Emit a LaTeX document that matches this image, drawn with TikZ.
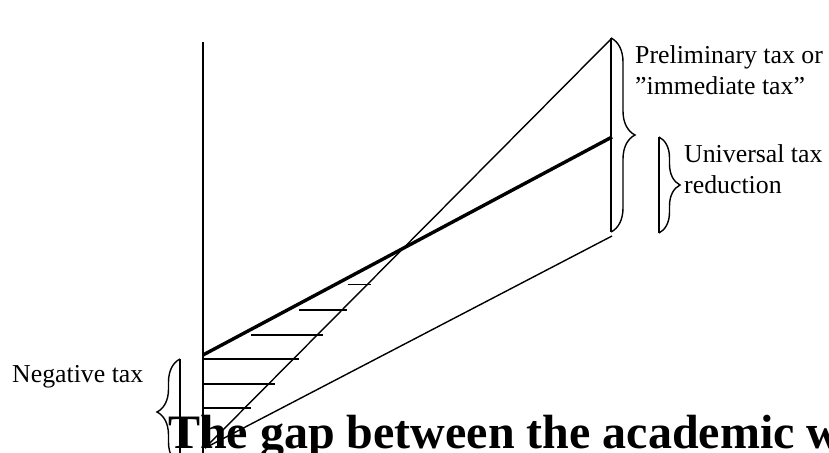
\documentclass[tikz,border=0pt]{standalone}
\usepackage{fontspec}
\setmainfont{Liberation Serif}
\usetikzlibrary{decorations.pathreplacing}

\begin{document}
\begin{tikzpicture}[
    % one unit = one pixel of the original, y running downwards
    x=1pt, y=-1pt,
    label/.style={anchor=base west, inner sep=0pt, align=left, font=\fontsize{25.8}{31}\selectfont},
    axis line/.style={line width=2pt},
    thin line/.style={line width=1.4pt},
    thick line/.style={line width=3.4pt},
    hatch/.style={line width=1.6pt},
    wordbrace/.style={decorate, decoration={brace, amplitude=#1}, line width=1.4pt}
]
    \useasboundingbox (0,0) rectangle (829,452);
    \clip (0,0) rectangle (829,452);

    % 1. Axis and the end points of the lines
    \coordinate (top) at (203,42);
    \coordinate (axisend) at (203,470);
    \coordinate (origin) at (205,448);
    \coordinate (negtop) at (203,355);
    \coordinate (steepend) at (612,38);
    \coordinate (univend) at (612,137);
    \coordinate (lowend) at (612,236);

    \draw[axis line] (top) -- (axisend);
    \draw[thin line] (origin) -- (steepend);
    \draw[thin line] (origin) -- (lowend);
    \draw[thick line] (negtop) -- (univend);

    % 2. Hatching between the two tax lines
    \foreach \y/\xa/\xb in {284.3/347.7/370.7, 310/299/346.7, 335/251/322.7,
                            359/203/299, 384/203/275, 407.7/203/250.7}
        \draw[hatch] (\xa,\y) -- (\xb,\y);

    % 3. Braces with their closing lines
    \coordinate (ptop) at (611,38);
    \coordinate (pbot) at (611,232);
    \draw[thin line] (ptop) -- (pbot);
    \draw[wordbrace=24pt] (ptop) -- (pbot);

    \coordinate (utop) at (659,137);
    \coordinate (ubot) at (659,233);
    \draw[thin line] (utop) -- (ubot);
    \draw[wordbrace=21pt] (utop) -- (ubot);

    \coordinate (ntop) at (180,359);
    \coordinate (nbot) at (180,465);
    \draw[thin line] (ntop) -- (nbot);
    \draw[wordbrace=23pt] (nbot) -- (ntop);

    % 4. Labels (base = baseline of the last line)
    \node[label] (prelim) at (635,94) {Preliminary tax or\\”immediate tax”};
    \node[label] (univ) at (684,193) {Universal tax\\reduction};
    \node[label] (negtax) at (12,382) {Negative tax};
    \node[anchor=base west, inner sep=0pt, font=\bfseries\fontsize{48}{56}\selectfont] (title) at (168,448) {The gap between the academic w};
\end{tikzpicture}
\end{document}
